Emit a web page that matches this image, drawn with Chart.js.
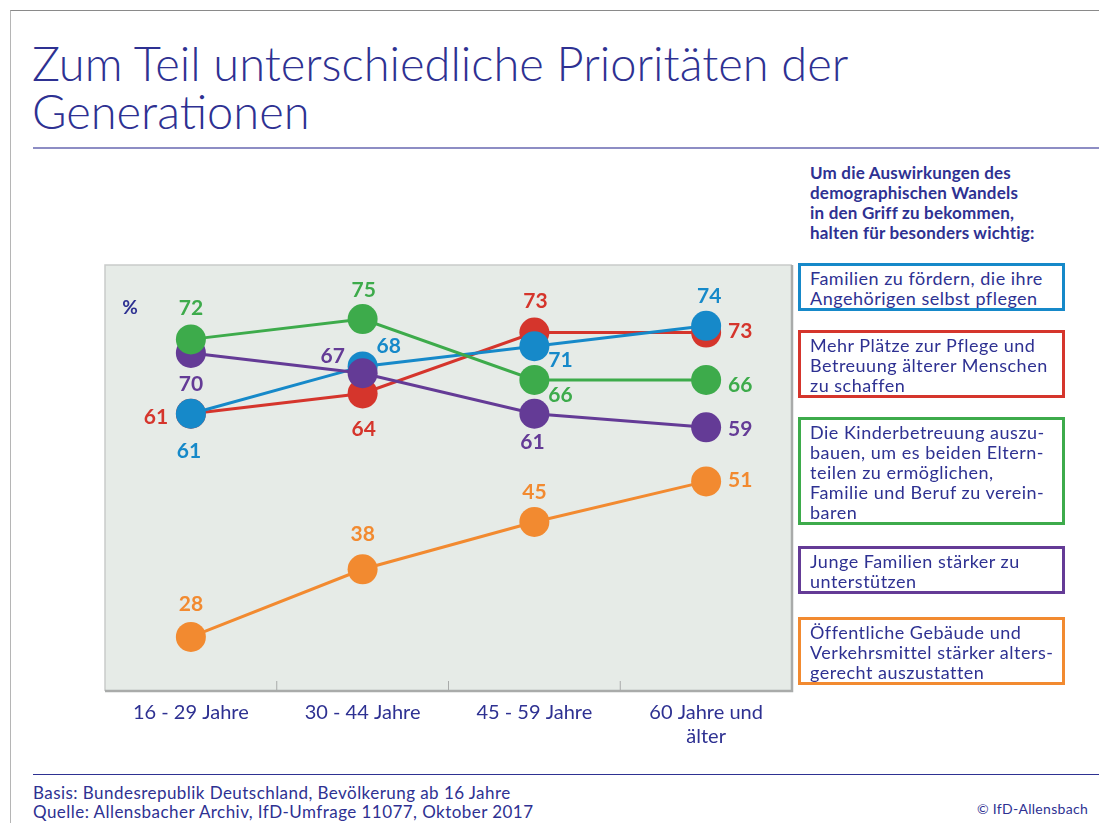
<!DOCTYPE html>
<html>
<head>
<meta charset="utf-8">
<script src="https://cdn.jsdelivr.net/npm/chart.js@4.4.1/dist/chart.umd.min.js"></script>
<style>
  body { margin: 0; background: #fff; font-family: Lato, "Noto Sans", sans-serif; color: #2e3192; }
  #page { position: relative; width: 1099px; height: 823px; overflow: hidden; }
  #frame { position: absolute; left: 10px; top: 10px; right: -5px; bottom: -5px; border-left: 1px solid #b5b5b5; border-top: 1px solid #8a8a8a; }
  h1 { position: absolute; left: 32px; top: 39px; margin: 0; font-weight: 300; font-size: 47px; line-height: 48px; color: #2e3192; }
  .rule { position: absolute; left: 33px; right: 0; height: 0; }
  #head { position: absolute; left: 810px; top: 163px; font-weight: 700; font-size: 17px; line-height: 20px; letter-spacing: 0.2px; }
  .box { position: absolute; left: 798px; width: 267px; box-sizing: border-box; border: 3px solid; padding: 2px 0 0 9px; font-size: 18px; line-height: 20px; letter-spacing: 0.5px; white-space: nowrap; }
  #foot { position: absolute; left: 33px; top: 783px; font-size: 17px; line-height: 19px; letter-spacing: 0.45px; }
  #copy { position: absolute; right: 11px; top: 800px; font-size: 14px; letter-spacing: 0.3px; }
  #wrap { position: absolute; left: 0; top: 250px; width: 807px; height: 510px; }
</style>
</head>
<body>
<div id="page">
  <div id="frame"></div>
  <h1>Zum Teil unterschiedliche Prioritäten der<br>Generationen</h1>
  <div class="rule" style="top:147px;border-top:2px solid #8d8dc4"></div>
  <div id="head">Um die Auswirkungen des<br>demographischen Wandels<br>in den Griff zu bekommen,<br>halten für besonders wichtig:</div>
  <div id="wrap"><canvas id="lineChart"></canvas></div>
  <div id="legend"></div>
  <div class="rule" style="top:774px;border-top:1px solid #2e3192"></div>
  <div id="foot">Basis: Bundesrepublik Deutschland, Bevölkerung ab 16 Jahre<br>Quelle: Allensbacher Archiv, IfD-Umfrage 11077, Oktober 2017</div>
  <div id="copy">© IfD-Allensbach</div>
</div>
<script>
// age groups
var ageGroups = ['16 - 29 Jahre', '30 - 44 Jahre', '45 - 59 Jahre', ['60 Jahre und', 'älter']];

// % who consider it especially important
var familienPflege = [61, 68, 71, 74];
var pflegePlaetze = [61, 64, 73, 73];
var kinderbetreuung = [72, 75, 66, 66];
var jungeFamilien = [70, 67, 61, 59];
var altersgerecht = [28, 38, 45, 51];

var seriesNames = [
    'Familien zu fördern, die ihre Angehörigen selbst pflegen',
    'Mehr Plätze zur Pflege und Betreuung älterer Menschen zu schaffen',
    'Die Kinderbetreuung auszu-bauen, um es beiden Eltern-teilen zu ermöglichen, Familie und Beruf zu verein-baren',
    'Junge Familien stärker zu unterstützen',
    'Öffentliche Gebäude und Verkehrsmittel stärker alters-gerecht auszustatten'
];

var colors = ['#1689c9', '#d5352c', '#3dab4b', '#643b96', '#f28a30'];

// legend boxes on the right (html, text broken like the original)
var boxLines = [
    ['Familien zu fördern, die ihre', 'Angehörigen selbst pflegen'],
    ['Mehr Plätze zur Pflege und', 'Betreuung älterer Menschen', 'zu schaffen'],
    ['Die Kinderbetreuung auszu-', 'bauen, um es beiden Eltern-', 'teilen zu ermöglichen,', 'Familie und Beruf zu verein-', 'baren'],
    ['Junge Familien stärker zu', 'unterstützen'],
    ['Öffentliche Gebäude und', 'Verkehrsmittel stärker alters-', 'gerecht auszustatten']
];
var boxTops = [263, 330, 417, 546, 617];

var legendDiv = document.getElementById('legend');
for (var i = 0; i < boxLines.length; i++) {
    var d = document.createElement('div');
    d.className = 'box';
    d.style.top = boxTops[i] + 'px';
    d.style.borderColor = colors[i];
    d.style.background = '#fff';
    d.innerHTML = boxLines[i].join('<br>');
    legendDiv.appendChild(d);
}

// where each value label sits relative to its point [dx, dy]
var labelOffsets = [
    [[-2, 37], [26, -20], [26, 14], [3, -30]],
    [[-35, 3], [1, 36], [1, -31], [34, -1]],
    [[0, -31], [1, -29], [26, 15], [34, 5]],
    [[0, 31], [-30, -17], [-2, 28], [34, 2]],
    [[0, -33], [0, -35], [0, -30], [34, -1]]
];

var plotFrame = {
    id: 'plotFrame',
    beforeDatasetsDraw: function (chart) {
        var ctx = chart.ctx, a = chart.chartArea;
        ctx.save();
        ctx.fillStyle = '#e6ebe7';
        ctx.fillRect(a.left, a.top, a.right - a.left, a.bottom - a.top);
        ctx.strokeStyle = '#c9cbca';
        ctx.lineWidth = 1.5;
        ctx.beginPath();
        ctx.moveTo(a.left, a.bottom);
        ctx.lineTo(a.left, a.top);
        ctx.lineTo(a.right, a.top);
        ctx.stroke();
        ctx.strokeStyle = '#a9abaa';
        ctx.lineWidth = 2.5;
        ctx.beginPath();
        ctx.moveTo(a.left, a.bottom);
        ctx.lineTo(a.right, a.bottom);
        ctx.lineTo(a.right, a.top);
        ctx.stroke();
        // small category separators rising from the bottom edge
        var x = chart.scales.x;
        ctx.lineWidth = 1;
        ctx.strokeStyle = '#a9abaa';
        for (var k = 0; k < ageGroups.length - 1; k++) {
            var px = (x.getPixelForValue(k) + x.getPixelForValue(k + 1)) / 2;
            ctx.beginPath();
            ctx.moveTo(px, a.bottom);
            ctx.lineTo(px, a.bottom - 10);
            ctx.stroke();
        }
        ctx.fillStyle = '#2e3192';
        ctx.font = 'bold 19px Lato';
        ctx.textAlign = 'center';
        ctx.textBaseline = 'middle';
        ctx.fillText('%', a.left + 25, a.top + 43);
        ctx.restore();
    }
};

var valueLabels = {
    id: 'valueLabels',
    afterDatasetsDraw: function (chart) {
        var ctx = chart.ctx;
        ctx.save();
        ctx.font = 'bold 21px Lato';
        ctx.textAlign = 'center';
        ctx.textBaseline = 'middle';
        chart.data.datasets.forEach(function (ds, di) {
            var meta = chart.getDatasetMeta(di);
            ctx.fillStyle = ds.borderColor;
            meta.data.forEach(function (pt, pi) {
                var off = labelOffsets[di][pi];
                ctx.fillText(ds.data[pi], pt.x + off[0], pt.y + off[1]);
            });
        });
        ctx.restore();
    }
};

var allSeries = [familienPflege, pflegePlaetze, kinderbetreuung, jungeFamilien, altersgerecht];
var drawOrder = [3, 4, 1, 2, 0];

var datasets = [];
for (var s = 0; s < allSeries.length; s++) {
    datasets.push({
        label: seriesNames[s],
        data: allSeries[s],
        borderColor: colors[s],
        backgroundColor: colors[s],
        borderWidth: 3,
        pointRadius: 15,
        pointHoverRadius: 15,
        pointBorderWidth: 0,
        tension: 0,
        order: drawOrder[s]
    });
}

var lineChart = document.getElementById('lineChart').getContext('2d');

let chart1 = new Chart(lineChart, {
    type: 'line',
    data: {
        labels: ageGroups,
        datasets: datasets
    },

    plugins: [plotFrame, valueLabels],

    options: {
        responsive: true,
        maintainAspectRatio: false,
        animation: false,
        layout: {
            padding: { left: 105, right: 0, top: 12, bottom: 0 }
        },
        scales: {
            x: {
                offset: true,
                grid: { display: false, drawTicks: false },
                border: { display: false },
                ticks: {
                    color: '#2e3192',
                    padding: 10,
                    font: { family: 'Lato', size: 20 },
                    maxRotation: 0
                },
                afterFit: function (scale) { scale.height = 69; }
            },
            y: {
                display: false,
                min: 20,
                max: 83
            }
        },
        plugins: {
            legend: { display: false },
            tooltip: { enabled: false }
        }
    }
})
</script>
</body>
</html>
